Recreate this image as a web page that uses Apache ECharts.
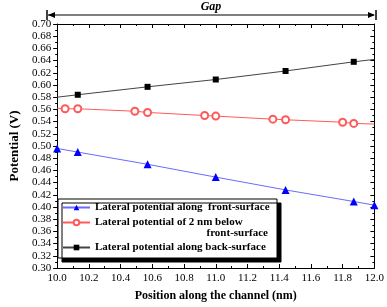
<!DOCTYPE html>
<html>
<head>
<meta charset="utf-8">
<script src="https://cdn.jsdelivr.net/npm/echarts@6/dist/echarts.min.js"></script>
<style>
html, body { margin: 0; padding: 0; background: #fff; }
#main { width: 387px; height: 307px; }
</style>
</head>
<body>
<div id="main"></div>
<script>
// front surface (blue triangles)
var frontX = [10.0, 10.13, 10.57, 11.0, 11.44, 11.87, 12.0];
var frontY = [0.496, 0.490, 0.470, 0.449, 0.428, 0.409, 0.403];
// 2 nm below front surface (red open circles), fitted line ends at 10.0 / 12.0
var belowX = [10.05, 10.13, 10.49, 10.57, 10.93, 11.0, 11.36, 11.44, 11.80, 11.87];
var belowY = [0.561, 0.561, 0.557, 0.555, 0.550, 0.549, 0.544, 0.543, 0.539, 0.537];
var belowEnds = [0.562, 0.536];
// back surface (black squares)
var backX = [10.13, 10.57, 11.0, 11.44, 11.87];
var backY = [0.584, 0.597, 0.609, 0.623, 0.638];
var backEnds = [0.580, 0.642];

var xRange = [10.0, 12.0];
var names = ['Lateral potential along  front-surface',
             'Lateral potential of 2 nm below',
             'Lateral potential along back-surface'];

var serif = '"Liberation Serif", "Times New Roman", serif';

function withEnds(xs, ys, ends) {
    var d = [{ value: [xRange[0], ends[0]], symbol: 'none' }];
    for (var i = 0; i < xs.length; i++) d.push([xs[i], ys[i]]);
    d.push({ value: [xRange[1], ends[1]], symbol: 'none' });
    return d;
}

var frontData = frontX.map(function (x, i) { return [x, frontY[i]]; });

var chart = echarts.init(document.getElementById('main'));

var legendText = { fontFamily: serif, fontWeight: 'bold', fontSize: 11, color: '#000' };

var option = {
    animation: false,
    backgroundColor: '#fff',
    grid: { left: 47, right: 12, top: 24, bottom: 39 },
    legend: [{
        data: [names[0], names[1]],
        orient: 'vertical',
        left: 57, top: 197,
        itemWidth: 27, itemHeight: 7, itemGap: 4,
        textStyle: legendText
    }, {
        data: [names[2]],
        orient: 'vertical',
        left: 57, top: 237,
        itemWidth: 27, itemHeight: 7,
        textStyle: legendText
    }],
    xAxis: [{
        type: 'value', min: 10, max: 12, interval: 0.2,
        name: 'Position along the channel (nm)',
        nameLocation: 'middle', nameGap: 22,
        nameTextStyle: { fontFamily: serif, fontWeight: 'bold', fontSize: 12, color: '#000' },
        axisLine: { lineStyle: { color: '#000', width: 1 } },
        axisTick: { inside: true, length: 4, lineStyle: { color: '#000' } },
        minorTick: { show: true, splitNumber: 2, length: 2, lineStyle: { color: '#000' } },
        axisLabel: {
            fontFamily: serif, fontSize: 11, color: '#000', margin: 5,
            formatter: function (v) { return v.toFixed(1); }
        },
        splitLine: { show: false }
    }, {
        type: 'value', min: 10, max: 12, interval: 0.2, position: 'top',
        axisLine: { lineStyle: { color: '#000', width: 1 } },
        axisTick: { inside: true, length: 4, lineStyle: { color: '#000' } },
        minorTick: { show: true, splitNumber: 2, length: 2, lineStyle: { color: '#000' } },
        axisLabel: { show: false },
        splitLine: { show: false }
    }],
    yAxis: [{
        type: 'value', min: 0.3, max: 0.7, interval: 0.02,
        name: 'Potential (V)',
        nameLocation: 'middle', nameGap: 36,
        nameTextStyle: { fontFamily: serif, fontWeight: 'bold', fontSize: 13, color: '#000' },
        axisLine: { show: true, lineStyle: { color: '#000', width: 1 } },
        axisTick: { show: true, length: 4, lineStyle: { color: '#000' } },
        minorTick: { show: true, splitNumber: 2, length: 2, lineStyle: { color: '#000' } },
        axisLabel: {
            fontFamily: serif, fontSize: 11, color: '#000', margin: 6,
            formatter: function (v) { return v.toFixed(2); }
        },
        splitLine: { show: false }
    }, {
        type: 'value', min: 0.3, max: 0.7, interval: 0.02, position: 'right',
        axisLine: { show: true, lineStyle: { color: '#000', width: 1 } },
        axisTick: { show: true, inside: true, length: 4, lineStyle: { color: '#000' } },
        minorTick: { show: true, splitNumber: 2, length: 2, lineStyle: { color: '#000' } },
        axisLabel: { show: false },
        splitLine: { show: false }
    }],
    series: [{
        name: names[0],
        type: 'line',
        data: frontData,
        symbol: 'triangle', symbolSize: 8,
        lineStyle: { color: '#6b6bff', width: 1 },
        itemStyle: { color: '#0000ff' }
    }, {
        name: names[1],
        type: 'line',
        data: withEnds(belowX, belowY, belowEnds),
        symbol: 'emptyCircle', symbolSize: 7,
        lineStyle: { color: '#ff5a5a', width: 1 },
        itemStyle: { color: '#ff5a5a', borderColor: '#ff5a5a', borderWidth: 1 }
    }, {
        name: names[2],
        type: 'line',
        data: withEnds(backX, backY, backEnds),
        symbol: 'rect', symbolSize: 6,
        lineStyle: { color: '#444', width: 1 },
        itemStyle: { color: '#000' }
    }],
    graphic: [
        // legend frame with drop shadow
        { type: 'rect', z: 3, shape: { x: 58, y: 199, width: 219, height: 59 },
          style: { fill: '#fff', stroke: '#000', lineWidth: 1,
                   shadowColor: '#000', shadowOffsetX: 4, shadowOffsetY: 4, shadowBlur: 0 } },
        { type: 'text', z: 5, right: 119, top: 228,
          style: { text: 'front-surface', fontFamily: serif, fontWeight: 'bold', fontSize: 11, fill: '#000' } },
        // "Gap" arrow above the plot
        { type: 'line', shape: { x1: 48, y1: 15, x2: 374, y2: 15 }, style: { stroke: '#000', lineWidth: 1.2 } },
        { type: 'line', shape: { x1: 47, y1: 10, x2: 47, y2: 20 }, style: { stroke: '#000', lineWidth: 1.5 } },
        { type: 'line', shape: { x1: 376, y1: 10, x2: 376, y2: 20 }, style: { stroke: '#000', lineWidth: 1.5 } },
        { type: 'polygon', shape: { points: [[48, 15], [55, 12], [55, 18]] }, style: { fill: '#000' } },
        { type: 'polygon', shape: { points: [[375, 15], [368, 12], [368, 18]] }, style: { fill: '#000' } },
        { type: 'text', x: 211, y: 1,
          style: { text: 'Gap', align: 'center', fontFamily: serif, fontWeight: 'bold',
                   fontStyle: 'italic', fontSize: 12, fill: '#000' } }
    ]
};

chart.setOption(option);
</script>
</body>
</html>
